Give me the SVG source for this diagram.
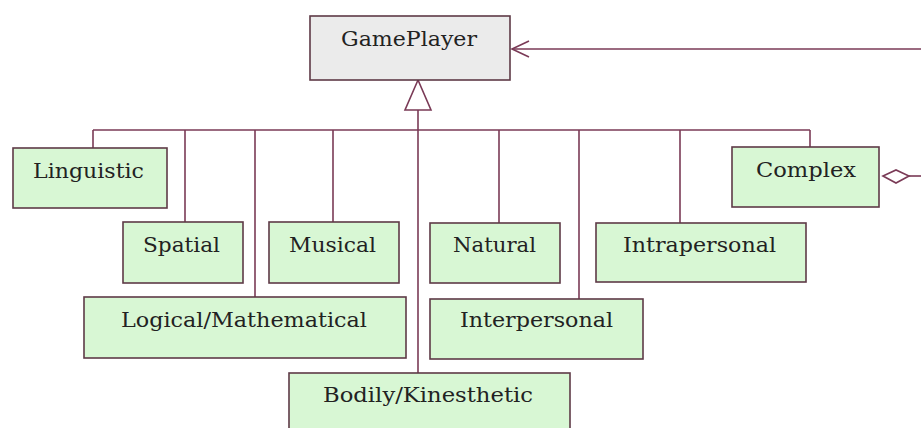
<svg xmlns="http://www.w3.org/2000/svg" width="921" height="428" viewBox="0 0 921 428">
  <style>
    .cls { fill: #d8f7d4; stroke: #5e3a46; stroke-width: 1.6; }
    .base { fill: #ebebeb; stroke: #5e3a46; stroke-width: 1.6; }
    .lbl { font-family: "DejaVu Serif", "Liberation Serif", serif; font-size: 20px; fill: #222222; text-anchor: middle; }
    .wire { fill: none; stroke: #7a3a56; stroke-width: 1.6; }
    .head { fill: #ffffff; stroke: #7a3a56; stroke-width: 1.6; stroke-linejoin: miter; }
  </style>
  <rect width="921" height="428" fill="#ffffff"/>

  <!-- connectors -->
  <g id="connectors">
    <!-- association into GamePlayer from the right -->
    <path class="wire" d="M921,49 H512"/>
    <path class="wire" d="M529,41 L512,49 L529,57"/>
    <!-- generalization bus -->
    <path class="wire" d="M93,130 H810"/>
    <path class="wire" d="M93,130 V148"/>
    <path class="wire" d="M185,130 V222"/>
    <path class="wire" d="M255,130 V297"/>
    <path class="wire" d="M333,130 V222"/>
    <path class="wire" d="M418,110 V373"/>
    <path class="wire" d="M499,130 V223"/>
    <path class="wire" d="M579,130 V299"/>
    <path class="wire" d="M680,130 V223"/>
    <path class="wire" d="M810,130 V147"/>
    <polygon class="head" points="418,80 405,110 431,110"/>
    <!-- aggregation from Complex -->
    <path class="wire" d="M909,176 H921"/>
    <polygon class="head" points="883,176 896,170 909,176 896,183"/>
  </g>

  <g id="GamePlayer">
    <rect class="base" x="310" y="16" width="200" height="64"/>
    <text class="lbl" x="409" y="46" textLength="136" lengthAdjust="spacingAndGlyphs">GamePlayer</text>
  </g>
  <g id="Linguistic">
    <rect class="cls" x="13" y="148" width="154" height="60"/>
    <text class="lbl" x="88.5" y="178" textLength="111" lengthAdjust="spacingAndGlyphs">Linguistic</text>
  </g>
  <g id="Complex">
    <rect class="cls" x="732" y="147" width="147" height="60"/>
    <text class="lbl" x="806" y="177" textLength="100" lengthAdjust="spacingAndGlyphs">Complex</text>
  </g>
  <g id="Spatial">
    <rect class="cls" x="123" y="222" width="120" height="61"/>
    <text class="lbl" x="181.5" y="252" textLength="77" lengthAdjust="spacingAndGlyphs">Spatial</text>
  </g>
  <g id="Musical">
    <rect class="cls" x="269" y="222" width="130" height="61"/>
    <text class="lbl" x="332.5" y="252" textLength="87" lengthAdjust="spacingAndGlyphs">Musical</text>
  </g>
  <g id="Natural">
    <rect class="cls" x="430" y="223" width="130" height="60"/>
    <text class="lbl" x="494.5" y="252" textLength="83" lengthAdjust="spacingAndGlyphs">Natural</text>
  </g>
  <g id="Intrapersonal">
    <rect class="cls" x="596" y="223" width="210" height="59"/>
    <text class="lbl" x="699.5" y="252" textLength="153" lengthAdjust="spacingAndGlyphs">Intrapersonal</text>
  </g>
  <g id="LogicalMathematical">
    <rect class="cls" x="84" y="297" width="322" height="61"/>
    <text class="lbl" x="244" y="327" textLength="246" lengthAdjust="spacingAndGlyphs">Logical/Mathematical</text>
  </g>
  <g id="Interpersonal">
    <rect class="cls" x="430" y="299" width="213" height="60"/>
    <text class="lbl" x="536.5" y="327" textLength="153" lengthAdjust="spacingAndGlyphs">Interpersonal</text>
  </g>
  <g id="BodilyKinesthetic">
    <rect class="cls" x="289" y="373" width="281" height="62"/>
    <text class="lbl" x="428" y="402" textLength="210" lengthAdjust="spacingAndGlyphs">Bodily/Kinesthetic</text>
  </g>
</svg>
